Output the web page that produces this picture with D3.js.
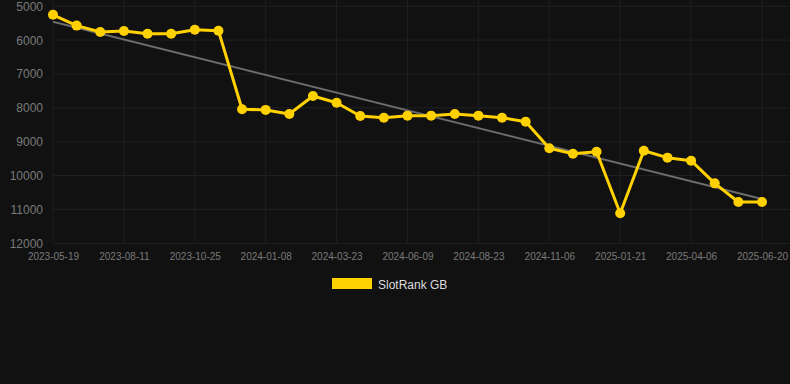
<!DOCTYPE html>
<html><head><meta charset="utf-8">
<script src="https://cdn.jsdelivr.net/npm/d3@7"></script>
<style>html,body{margin:0;padding:0;background:#111111;}svg{display:block;}</style>
</head><body>
<script>
const dates = ["2023-05-19","2023-06-16","2023-07-14","2023-08-11","2023-09-05","2023-09-30","2023-10-25","2023-11-19","2023-12-14","2024-01-08",
"2024-02-02","2024-02-27","2024-03-23","2024-04-18","2024-05-14","2024-06-09","2024-07-04","2024-07-29","2024-08-23","2024-09-17",
"2024-10-12","2024-11-06","2024-12-01","2024-12-27","2025-01-21","2025-02-15","2025-03-12","2025-04-06","2025-05-01","2025-05-26","2025-06-20"];
const ranks = [5250,5570,5760,5730,5810,5810,5690,5720,8040,8060,
8180,7650,7850,8240,8290,8230,8230,8180,8230,8290,
8410,9195,9355,9295,11115,9265,9470,9560,10230,10780,10780];
const yTicks = [5000,6000,7000,8000,9000,10000,11000,12000];
const seriesName = "SlotRank GB";

const W = 790, H = 384;
const m = {left:53, right:28, top:6.3, bottom:140.7};
const svg = d3.select("body").append("svg").attr("width", W).attr("height", H);
svg.append("rect").attr("width", W).attr("height", H).attr("fill", "#111111");

const x = d3.scalePoint().domain(dates).range([m.left, W - m.right]);
const y = d3.scaleLinear().domain([5000, 12000]).range([m.top, H - m.bottom]);

const labelDates = dates.filter((d,i) => i % 3 === 0);

// grid
const g = svg.append("g");
g.selectAll(".hg").data(yTicks).join("line")
  .attr("x1", m.left).attr("x2", W).attr("y1", d => y(d)).attr("y2", d => y(d))
  .attr("stroke", "#212121").attr("stroke-width", 1);
g.selectAll(".vg").data(labelDates).join("line")
  .attr("x1", d => x(d)).attr("x2", d => x(d)).attr("y1", 0).attr("y2", y(12000))
  .attr("stroke", "#1f1f1f").attr("stroke-width", 1);

// y axis labels
const yAxis = d3.axisLeft(y).tickValues(yTicks).tickSize(0).tickPadding(10).tickFormat(d3.format("d"));
const ya = svg.append("g").attr("transform", `translate(${m.left},0)`).call(yAxis);
ya.select(".domain").remove();
ya.selectAll("text").attr("fill", "#7a7a7a").style("font-family", "Arial, 'Liberation Sans', sans-serif").style("font-size", "12px");

// x axis
const xAxis = d3.axisBottom(x).tickValues(labelDates).tickSize(0).tickPadding(10);
const xa = svg.append("g").attr("transform", `translate(0,${y(12000)})`).call(xAxis);
xa.select(".domain").remove();
xa.selectAll("text").attr("fill", "#7a7a7a").style("font-family", "Arial, 'Liberation Sans', sans-serif").style("font-size", "10px");

// trend line (least squares)
const n = ranks.length;
const xs = d3.range(n);
const mx = d3.mean(xs), my = d3.mean(ranks);
const slope = d3.sum(xs, i => (i - mx) * (ranks[i] - my)) / d3.sum(xs, i => (i - mx) ** 2);
const icpt = my - slope * mx;
svg.append("line")
  .attr("x1", x(dates[0])).attr("y1", y(icpt))
  .attr("x2", x(dates[n-1])).attr("y2", y(icpt + slope * (n-1)))
  .attr("stroke", "#6b6b6b").attr("stroke-width", 2);

// series
const color = "#FFD100";
const line = d3.line().x((d,i) => x(dates[i])).y(d => y(d));
svg.append("path").datum(ranks).attr("d", line)
  .attr("fill", "none").attr("stroke", color).attr("stroke-width", 3).attr("stroke-linejoin", "round");
svg.selectAll(".pt").data(ranks).join("circle")
  .attr("cx", (d,i) => x(dates[i])).attr("cy", d => y(d)).attr("r", 5).attr("fill", color);

// legend
const lg = svg.append("g");
lg.append("rect").attr("x", 332).attr("y", 278).attr("width", 40).attr("height", 11).attr("fill", color);
lg.append("text").attr("x", 378).attr("y", 289).text(seriesName)
  .attr("fill", "#dddddd").style("font-family", "Arial, 'Liberation Sans', sans-serif").style("font-size", "12px");
</script>
</body></html>
